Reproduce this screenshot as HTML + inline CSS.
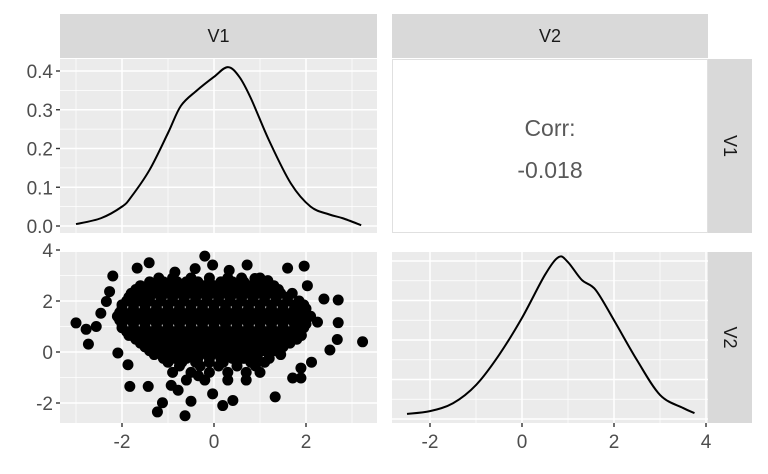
<!DOCTYPE html>
<html><head><meta charset="utf-8"><style>
html,body{margin:0;padding:0;background:#fff}
svg{display:block;font-family:"Liberation Sans",Arial,sans-serif}
</style></head><body>
<svg id="c" width="768" height="474" viewBox="0 0 768 474"></svg>
<script>
const NS="http://www.w3.org/2000/svg";
// ---- data ----
const v1DensX=[-3.0,-2.46,-2.0,-1.8,-1.4,-1.0,-0.72,-0.37,0.0,0.3,0.55,0.8,1.2,1.67,2.1,2.5,2.8,3.2];
const v1DensY=[0.005,0.02,0.05,0.075,0.145,0.24,0.31,0.35,0.385,0.41,0.385,0.33,0.22,0.11,0.05,0.03,0.02,0.002];
const v2DensX=[-2.5,-2.0,-1.5,-1.0,-0.5,0.0,0.5,0.8,1.0,1.3,1.6,2.0,2.5,3.0,3.5,3.75];
const v2DensY=[0.013,0.02,0.04,0.086,0.162,0.256,0.365,0.41,0.397,0.352,0.327,0.25,0.149,0.061,0.028,0.015];
const outX=[-3.0,-2.78,-2.73,3.23,2.70,2.70,2.68,2.52,1.96,1.60,-0.2,-0.03,0.33,0.72,-1.41,-1.67,-2.2,-2.27,-2.34,-2.46,-2.56,-2.09,-1.87,-1.83,-1.43,-1.12,-1.23,-0.63,-0.5,-0.03,0.19,0.41,1.33,1.71,1.89,1.89,2.12,2.25,2.03,2.39,1.17,-0.93,-0.78,-0.34,-0.85,-0.41,0.89];
const outY=[1.14,0.89,0.31,0.40,2.04,1.15,0.49,0.08,3.37,3.29,3.76,3.41,3.2,3.41,3.5,3.29,2.98,2.37,1.98,1.52,1.0,-0.04,-0.5,-1.35,-1.35,-1.99,-2.35,-2.5,-1.93,-1.64,-2.1,-1.9,-1.76,-1.02,-1.02,-0.63,-0.4,1.17,2.6,2.08,2.8,-1.31,-1.5,-0.93,3.13,3.27,2.88];
const coreRowY=[2.9,2.6,2.3,2.0,1.7,1.4,1.1,0.8,0.5,0.2,-0.1,-0.4,-0.8,-1.1];
const coreRowX=[
 [-1.2,-0.9,-0.5,-0.1,0.3,0.6,1.0],
 [-1.6,-1.3,-1.0,-0.75,-0.5,-0.25,0,0.25,0.5,0.75,1.0,1.3],
 [-1.8,-1.55,-1.3,-1.05,-0.8,-0.55,-0.3,-0.05,0.2,0.45,0.7,0.95,1.2,1.45,1.7],
 [-1.9,-1.65,-1.4,-1.15,-0.9,-0.65,-0.4,-0.15,0.1,0.35,0.6,0.85,1.1,1.35,1.6,1.85],
 [-2.0,-1.75,-1.5,-1.25,-1.0,-0.75,-0.5,-0.25,0,0.25,0.5,0.75,1.0,1.25,1.5,1.75,2.0],
 [-2.1,-1.85,-1.6,-1.35,-1.1,-0.85,-0.6,-0.35,-0.1,0.15,0.4,0.65,0.9,1.15,1.4,1.65,1.9,2.1],
 [-2.0,-1.75,-1.5,-1.25,-1.0,-0.75,-0.5,-0.25,0,0.25,0.5,0.75,1.0,1.25,1.5,1.75,2.0],
 [-1.9,-1.65,-1.4,-1.15,-0.9,-0.65,-0.4,-0.15,0.1,0.35,0.6,0.85,1.1,1.35,1.6,1.85],
 [-1.7,-1.45,-1.2,-0.95,-0.7,-0.45,-0.2,0.05,0.3,0.55,0.8,1.05,1.3,1.55,1.8],
 [-1.5,-1.25,-1.0,-0.75,-0.5,-0.25,0,0.25,0.5,0.75,1.0,1.25,1.5],
 [-1.3,-1.05,-0.8,-0.55,-0.3,-0.05,0.2,0.45,0.7,0.95,1.2,1.45],
 [-1.0,-0.7,-0.4,-0.1,0.2,0.5,0.8,1.1],
 [-0.9,-0.5,-0.1,0.3,0.7,1.0],
 [-0.6,-0.2,0.3,0.7]];
const core2RowY=[2.75,2.45,2.15,1.85,1.55,1.25,0.95,0.65,0.35,0.05,-0.25,-0.55];
const core2RowX=[
 [-1.4,-1.1,-0.8,-0.6,-0.35,-0.1,0.15,0.4,0.65,0.9,1.15],
 [-1.7,-1.45,-1.2,-0.9,-0.65,-0.4,-0.15,0.1,0.35,0.6,0.85,1.1,1.4],
 [-1.85,-1.6,-1.4,-1.15,-0.9,-0.65,-0.4,-0.15,0.1,0.35,0.6,0.85,1.1,1.35,1.6],
 [-2.0,-1.75,-1.5,-1.25,-1.0,-0.75,-0.5,-0.25,0,0.25,0.5,0.75,1.0,1.25,1.5,1.75,1.95],
 [-2.05,-1.8,-1.55,-1.3,-1.05,-0.8,-0.55,-0.3,-0.05,0.2,0.45,0.7,0.95,1.2,1.45,1.7,1.95],
 [-2.05,-1.8,-1.55,-1.3,-1.05,-0.8,-0.55,-0.3,-0.05,0.2,0.45,0.7,0.95,1.2,1.45,1.7,1.95],
 [-2.0,-1.75,-1.5,-1.25,-1.0,-0.75,-0.5,-0.25,0,0.25,0.5,0.75,1.0,1.25,1.5,1.75,1.95],
 [-1.85,-1.6,-1.35,-1.1,-0.85,-0.6,-0.35,-0.1,0.15,0.4,0.65,0.9,1.15,1.4,1.65,1.9],
 [-1.6,-1.35,-1.1,-0.85,-0.6,-0.35,-0.1,0.15,0.4,0.65,0.9,1.15,1.4,1.65],
 [-1.4,-1.15,-0.9,-0.65,-0.4,-0.15,0.1,0.35,0.6,0.85,1.1,1.35],
 [-1.1,-0.85,-0.6,-0.35,-0.1,0.15,0.4,0.65,0.9,1.2],
 [-0.75,-0.3,0.1,0.5,0.9]];
const xTicks=[-2,0,2];
const xTicksR=[-2,0,2,4];
const yTicksTop=[0,0.1,0.2,0.3,0.4];
const yTicksBot=[-2,0,2,4];
const corrLabel="-0.018";
// ---- scales ----
const xL=v=>214+46*v, xR=v=>522+46*v;
const yTop=v=>226-387.5*v, yBot=v=>352-25.5*v, yDR=v=>419-395*v;
const svg=document.getElementById('c');
function el(t,a,p){const e=document.createElementNS(NS,t);for(const k in a)e.setAttribute(k,a[k]);(p||svg).appendChild(e);return e;}
function smooth(P){let d='M'+P[0][0]+','+P[0][1];
  for(let i=0;i<P.length-1;i++){const p0=P[i-1]||P[i],p1=P[i],p2=P[i+1],p3=P[i+2]||p2;
    d+='C'+(p1[0]+(p2[0]-p0[0])/6)+','+(p1[1]+(p2[1]-p0[1])/6)+' '+(p2[0]-(p3[0]-p1[0])/6)+','+(p2[1]-(p3[1]-p1[1])/6)+' '+p2[0]+','+p2[1];}
  return d;}
function panel(name,x0,y0,x1,y1,vx,vy,mx,my){
  const g=el('g',{});
  
  
  el('rect',{x:x0,y:y0,width:x1-x0,height:y1-y0,fill:'#ebebeb'},g);
  mx.forEach(x=>el('line',{x1:x,x2:x,y1:y0,y2:y1,stroke:'#fff','stroke-width':0.7},g));
  my.forEach(y=>el('line',{x1:x0,x2:x1,y1:y,y2:y,stroke:'#fff','stroke-width':0.7},g));
  vx.forEach(x=>el('line',{x1:x,x2:x,y1:y0,y2:y1,stroke:'#fff','stroke-width':1.5},g));
  vy.forEach(y=>el('line',{x1:x0,x2:x1,y1:y,y2:y,stroke:'#fff','stroke-width':1.5},g));
  return g;
}
const PL=[60,377],PR=[392,708],RT=[59,233],RB=[252,423];
// top-left
const g1=panel('v1-density-panel',PL[0],RT[0],PL[1],RT[1],xTicks.map(xL),yTicksTop.map(yTop),[-3,-1,1,3].map(xL),[0.05,0.15,0.25,0.35].map(yTop));
const p1=el('path',{d:smooth(v1DensX.map((x,i)=>[xL(x),yTop(v1DensY[i])])),fill:'none',stroke:'#000','stroke-width':2,'stroke-linejoin':'round'},g1);


// bottom-left
const g2=panel('scatter-panel',PL[0],RB[0],PL[1],RB[1],xTicks.map(xL),yTicksBot.map(yBot),[-3,-1,1,3].map(xL),[-1,1,3].map(yBot));
const ptsX=[],ptsY=[];
coreRowY.forEach((y,i)=>coreRowX[i].forEach(x=>{ptsX.push(x);ptsY.push(y);}));
core2RowY.forEach((y,i)=>core2RowX[i].forEach(x=>{ptsX.push(x);ptsY.push(y);}));
outX.forEach((x,i)=>{ptsX.push(x);ptsY.push(outY[i]);});
ptsX.forEach((x,i)=>{
  const c=el('circle',{cx:xL(x),cy:yBot(ptsY[i]),r:5.5,fill:'#000'},g2);
  
  
});
// bottom-right
const g3=panel('v2-density-panel',PR[0],RB[0],PR[1],RB[1],xTicksR.map(xR),[0,0.1,0.2,0.3,0.4].map(yDR),[-1,1,3].map(xR),[0.05,0.15,0.25,0.35].map(yDR));
const p2=el('path',{d:smooth(v2DensX.map((x,i)=>[xR(x),yDR(v2DensY[i])])),fill:'none',stroke:'#000','stroke-width':2,'stroke-linejoin':'round'},g3);


// top-right corr
const cb=el('rect',{x:PR[0]+0.5,y:RT[0]+0.5,width:PR[1]-PR[0]-1,height:RT[1]-RT[0]-1,fill:'#fff',stroke:'#e0e0e0'});


const t1=el('text',{x:550,y:136,'text-anchor':'middle','font-size':23,fill:'#595959'});t1.textContent='Corr:';

const t2=el('text',{x:550,y:178,'text-anchor':'middle','font-size':23,fill:'#595959'});t2.textContent=corrLabel;

// strips
function strip(name,x,y,w,h,txt,rot){
  const r=el('rect',{x:x,y:y,width:w,height:h,fill:'#d9d9d9'});
  
  const cx=x+w/2,cy=y+h/2;
  const t=el('text',{x:cx,y:cy+6,'text-anchor':'middle','font-size':18,fill:'#1a1a1a'});
  if(rot)t.setAttribute('transform','rotate(90 '+cx+' '+cy+')');
  t.textContent=txt;
  
}
strip('strip-top-v1',60,14,317,44,'V1');
strip('strip-top-v2',392,14,316,44,'V2');
strip('strip-right-v1',708,59,44,174,'V1',true);
strip('strip-right-v2',708,252,44,171,'V2',true);
// axes ticks
function tickX(v,x,y){el('line',{x1:x,x2:x,y1:y,y2:y+4,stroke:'#333','stroke-width':1.4});
  const t=el('text',{x:x,y:y+25,'text-anchor':'middle','font-size':19,fill:'#4d4d4d'});t.textContent=String(v);
  }
function tickY(lbl,y){el('line',{x1:56,x2:60,y1:y,y2:y,stroke:'#333','stroke-width':1.4});
  const t=el('text',{x:53,y:y+7,'text-anchor':'end','font-size':19,fill:'#4d4d4d'});t.textContent=lbl;
  }
xTicks.forEach(v=>tickX(v,xL(v),423));
xTicksR.forEach(v=>tickX(v,xR(v),423));
yTicksTop.forEach(v=>tickY(v.toFixed(1),yTop(v)));
yTicksBot.forEach(v=>tickY(String(v),yBot(v)));
</script>
</body></html>
